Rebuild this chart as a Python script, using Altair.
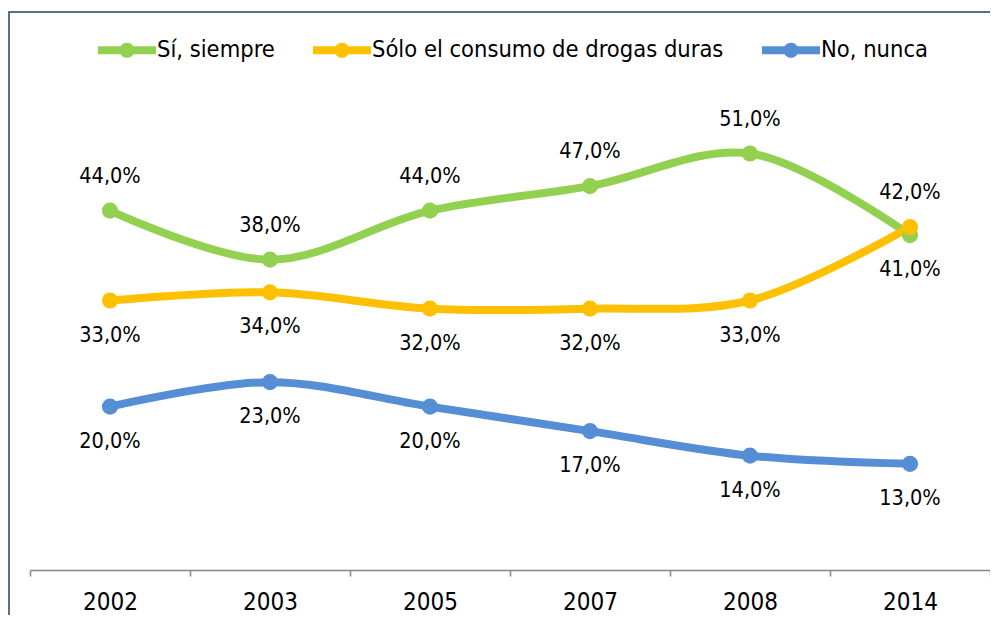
import altair as alt
import pandas as pd

years = ["2002", "2003", "2005", "2007", "2008", "2014"]
series = ["Sí, siempre", "Sólo el consumo de drogas duras", "No, nunca"]
si_siempre = [44, 38, 44, 47, 51, 41]
solo_duras = [33, 34, 32, 32, 33, 42]
no_nunca = [20, 23, 20, 17, 14, 13]
colors = ["#92D050", "#FFC000", "#558ED5"]

rows = []
for s, col, vals in zip(series, colors, [si_siempre, solo_duras, no_nunca]):
    for yr, v in zip(years, vals):
        rows.append({"year": yr, "serie": s, "valor": v, "col": col})
df = pd.DataFrame(rows)

FONT = "'DejaVu Sans Condensed', 'DejaVu Sans', sans-serif"
SYMBOL = ("M-1,-0.14 L1,-0.14 L1,0.14 L-1,0.14 Z "
          "M-0.26,0 A0.26,0.26 0 1,1 0.26,0 A0.26,0.26 0 1,1 -0.26,0 Z")

x = alt.X(
    "year:N", sort=years, bandPosition=0.5,
    scale=alt.Scale(type="band", paddingInner=0, paddingOuter=0),
    axis=alt.Axis(title=None, tickBand="extent", domainColor="#878787",
                  domainWidth=1.5, tickColor="#878787", tickWidth=1.5,
                  tickSize=6, labelFontSize=24, labelFont=FONT,
                  labelColor="#000000", labelPadding=14, labelAngle=0,
                  grid=False),
)
y = alt.Y("valor:Q", scale=alt.Scale(domain=[0, 60], nice=False, zero=True), axis=None)
cscale = alt.Scale(domain=series, range=colors)

base = alt.Chart(df)

frame = alt.Chart(alt.Data(values=[{}])).mark_rect(
    fillOpacity=0, stroke="#243F60", strokeWidth=1.5
).encode(x=alt.value(-21), x2=alt.value(1200), y=alt.value(-68), y2=alt.value(900))

lines = base.mark_line(strokeWidth=8, interpolate="catmull-rom").encode(
    x=x, y=y, detail="serie:N", stroke=alt.Stroke("col:N", scale=None)
)

points = base.mark_circle(size=260, opacity=1).encode(
    x=x, y=y,
    color=alt.Color(
        "serie:N", scale=cscale,
        legend=alt.Legend(
            title=None, orient="none", legendX=68, legendY=-59,
            direction="horizontal", symbolType=SYMBOL, symbolSize=3364,
            symbolStrokeWidth=0, symbolOpacity=1, labelFont=FONT,
            labelFontSize=23.5, labelColor="#000000", labelOffset=1,
            labelLimit=500, columnPadding=38, padding=0,
        ),
    ),
)

lbl = base.transform_joinaggregate(
    maxv="max(valor)", groupby=["year"]
).transform_calculate(
    txt="replace(format(datum.valor, '.1f'), '.', ',') + '%'"
)

above = lbl.transform_filter("datum.valor == datum.maxv").mark_text(
    dy=-34, baseline="middle", font=FONT, fontSize=21.5, color="#000000"
).encode(x=x, y=y, text="txt:N")

below = lbl.transform_filter("datum.valor != datum.maxv").mark_text(
    dy=35, baseline="middle", font=FONT, fontSize=21.5, color="#000000"
).encode(x=x, y=y, text="txt:N")

chart = alt.layer(frame, lines, points, above, below).properties(
    width=960, height=490,
    autosize=alt.AutoSizeParams(type="none"),
    padding={"left": 22, "top": 72, "right": 0, "bottom": 45},
).configure_view(stroke=None)

chart.save("out.html", embed_options={"renderer": "svg", "actions": False})
